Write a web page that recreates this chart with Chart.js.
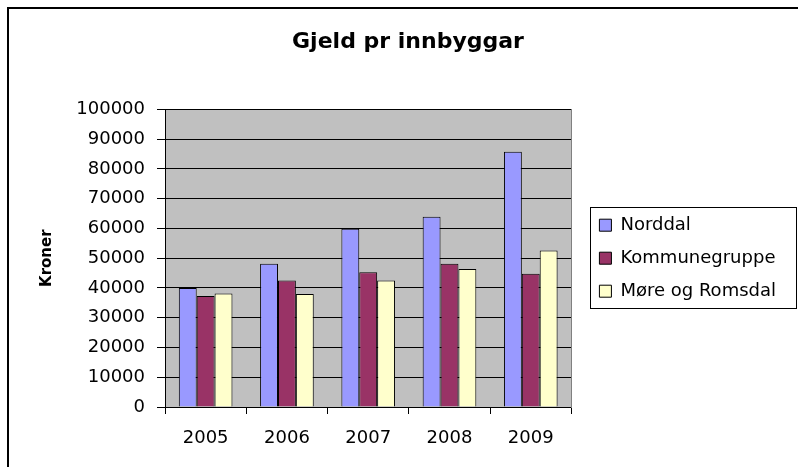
<!DOCTYPE html>
<html>
<head>
<meta charset="utf-8">
<script src="https://cdn.jsdelivr.net/npm/chart.js@4"></script>
<style>
  body { margin: 0; background: #fff; }
  canvas { display: block; }
</style>
</head>
<body>
<canvas id="chart" width="798" height="467"></canvas>
<script>
var years = ['2005', '2006', '2007', '2008', '2009'];
var norddal = [40000, 48100, 59900, 63900, 85800];
var kommunegruppe = [37300, 42500, 45300, 48100, 44800];
var moreRomsdal = [38100, 38000, 42500, 46400, 52600];

var yMin = 0;
var yMax = 100000;
var yStep = 10000;

var font = 'DejaVu Sans';
Chart.defaults.color = '#000';
Chart.defaults.font.family = font;

// grey plot area, white page, outer frame and the box round the legend
var framePlugin = {
    id: 'frame',
    beforeLayout: function (chart) {
        // the layout caps a side legend at a quarter of the width; let it be wide enough
        var lg = chart.legend;
        if (lg && !lg._wide) {
            var upd = lg.update;
            lg.update = function (w, h, m) { return upd.call(this, 240, h, m); };
            lg._wide = true;
        }
    },
    beforeDraw: function (chart) {
        var ctx = chart.ctx;
        var a = chart.chartArea;
        ctx.save();
        ctx.fillStyle = '#fff';
        ctx.fillRect(0, 0, chart.width, chart.height);
        ctx.fillStyle = '#C0C0C0';
        ctx.fillRect(a.left, a.top, a.right - a.left, a.bottom - a.top);
        ctx.restore();
    },
    afterDraw: function (chart) {
        var ctx = chart.ctx;
        ctx.save();
        ctx.strokeStyle = '#000';
        ctx.lineWidth = 2;
        ctx.strokeRect(8, 8, chart.width + 20, chart.height + 20);

        var boxes = chart.legend.legendHitBoxes;
        if (boxes && boxes.length) {
            var first = boxes[0];
            var last = boxes[boxes.length - 1];
            var top = Math.round(first.top - 9);
            var bottom = Math.round(last.top + last.height + 8);
            var left = Math.round(first.left - 9);
            ctx.lineWidth = 1;
            ctx.strokeRect(left + 0.5, top + 0.5, chart.width - 2 - left, bottom - top);
        }
        ctx.restore();
    }
};

var ctx = document.getElementById('chart');
var chart = new Chart(ctx, {
    type: 'bar',
    data: {
        labels: years,
        datasets: [{
            label: 'Norddal',
            data: norddal,
            backgroundColor: '#9999FF',
            borderColor: '#000',
            borderWidth: 1
        }, {
            label: 'Kommunegruppe',
            data: kommunegruppe,
            backgroundColor: '#993366',
            borderColor: '#000',
            borderWidth: 1
        }, {
            label: 'Møre og Romsdal',
            data: moreRomsdal,
            backgroundColor: '#FFFFCC',
            borderColor: '#000',
            borderWidth: 1
        }]
    },
    options: {
        responsive: false,
        animation: false,
        categoryPercentage: 0.66,
        barPercentage: 1.0,
        layout: {
            padding: { left: 30, right: 12, top: 0, bottom: 10 }
        },
        plugins: {
            title: {
                display: true,
                text: 'Gjeld pr innbyggar',
                color: '#000',
                font: { family: font, size: 22, weight: 'bold' },
                padding: { top: 29, bottom: 54 }
            },
            legend: {
                position: 'right',
                fullSize: false,
                labels: {
                    boxWidth: 12,
                    boxHeight: 12,
                    padding: 15,
                    color: '#000',
                    font: { family: font, size: 18 }
                }
            },
            tooltip: { enabled: false }
        },
        scales: {
            x: {
                offset: true,
                grid: {
                    offset: true,
                    drawOnChartArea: false,
                    color: '#000',
                    tickLength: 7
                },
                border: { color: '#000' },
                ticks: {
                    color: '#000',
                    padding: 14,
                    font: { family: font, size: 18 }
                },
                afterFit: function (s) { s.height = 50; }
            },
            y: {
                min: yMin,
                max: yMax,
                title: {
                    display: true,
                    text: 'Kroner',
                    color: '#000',
                    font: { family: font, size: 15, weight: 'bold' },
                    padding: { top: 8, bottom: 4 }
                },
                grid: {
                    color: '#000',
                    tickLength: 8
                },
                border: { color: '#000' },
                ticks: {
                    stepSize: yStep,
                    color: '#000',
                    padding: 12,
                    font: { family: font, size: 18 },
                    callback: function (v) { return String(v); }
                },
                afterFit: function (s) { s.width = 135; }
            },
            y2: {
                position: 'right',
                grid: { display: false },
                ticks: { display: false },
                border: { color: '#808080' },
                afterFit: function (s) { s.width = 13; }
            }
        }
    },
    plugins: [framePlugin]
});
</script>
</body>
</html>
